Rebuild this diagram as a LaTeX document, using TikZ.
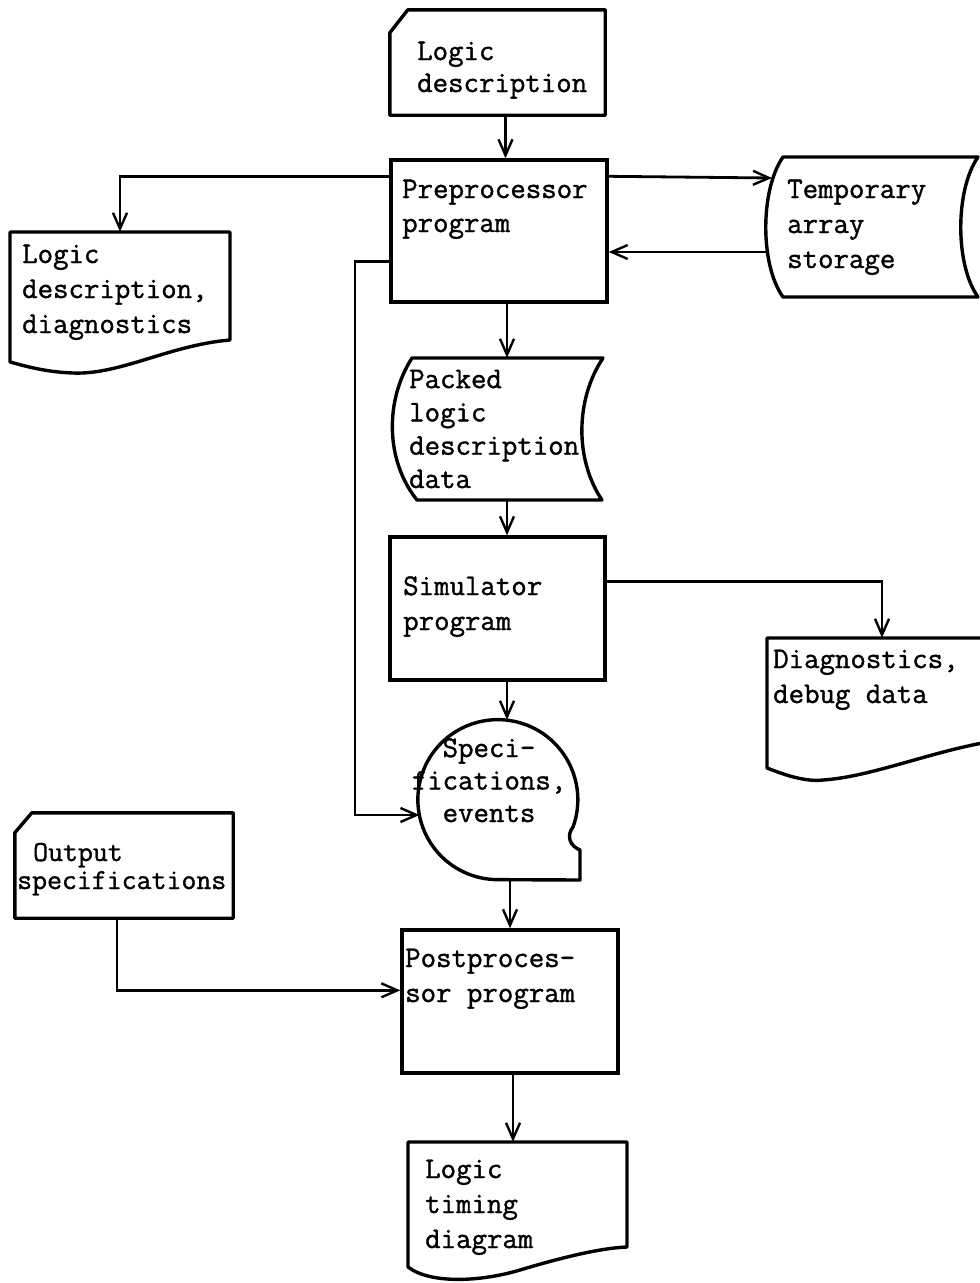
\documentclass[tikz,border=0pt]{standalone}
\usepackage{fontspec}
\setmonofont{Latin Modern Mono}[FakeBold=1.2]
\usetikzlibrary{arrows.meta,calc}
\begin{document}
\begin{tikzpicture}[x=1pt,y=-1pt,
  outl/.style={line width=3.4pt, line join=round},
  boxnode/.style={draw, rectangle, line width=3.4pt, inner sep=0pt},
  frame/.style={rectangle, draw=none, inner sep=0pt},
  conn/.style={line width=2.8pt},
  arr/.style={conn, -{Straight Barb[length=16pt,width=14pt,line width=2.4pt]}},
  lbl/.style={font=\ttfamily\bfseries\fontsize{30}{35}\selectfont, align=left, anchor=base west, inner sep=0pt},
]
\useasboundingbox (0,0) rectangle (980,1283);

% ---------- shapes ----------
% Logic description (card)
\node[frame, minimum width=215pt, minimum height=105pt] (ld) at (497.5,62.5) {};
\draw[outl] ([yshift=-23pt]ld.north west) -- ([xshift=18pt]ld.north west) -- (ld.north east) -- (ld.south east) -- (ld.south west) -- cycle;
\node[lbl, font=\ttfamily\bfseries\fontsize{30}{32}\selectfont] (ldT) at (417,92) {Logic\\description};

% Preprocessor program
\node[boxnode, minimum width=216pt, minimum height=142pt] (pre) at (499,231) {};
\node[lbl, font=\ttfamily\bfseries\fontsize{30}{34}\selectfont] (preT) at (402,232) {Preprocessor\\program};

% Logic description, diagnostics (document)
\node[frame, minimum width=220pt, minimum height=140pt] (ldd) at (120,302) {};
\draw[outl] (10,232) -- (230,232) -- (230,340) .. controls (170,345) and (120,375) .. (73,373) .. controls (45,372) and (25,366) .. (10,362) -- cycle;
\node[lbl] (lddT) at (22,333) {Logic\\description,\\diagnostics};

% Temporary array storage (online storage)
\node[frame, minimum width=213pt, minimum height=140pt] (tmp) at (871.5,227) {};
\draw[outl] (783,157) -- (978,157) .. controls (955,190) and (955,265) .. (978,297) -- (783,297) .. controls (760,265) and (760,190) .. (783,157) -- cycle;
\node[lbl] (tmpT) at (787,268) {Temporary\\array\\storage};
\coordinate (tmpIn) at (772,178);
\coordinate (tmpOut) at (768,252);

% Packed logic description data (storage)
\node[frame, minimum width=215pt, minimum height=142pt] (pk) at (495.5,429) {};
\draw[outl] (412,358) -- (603,358) .. controls (575,400) and (575,460) .. (602,500) -- (417,500) .. controls (385,460) and (385,400) .. (412,358) -- cycle;
\node[lbl, font=\ttfamily\bfseries\fontsize{30}{33.3}\selectfont] (pkT) at (409,488) {Packed\\logic\\description\\data};

% Simulator program
\node[boxnode, minimum width=215pt, minimum height=143pt] (sim) at (497.5,608.5) {};
\node[lbl] (simT) at (403,630) {Simulator\\program};

% Diagnostics, debug data (document, cut at right border)
\node[frame, minimum width=230pt, minimum height=144pt] (diag) at (882,710) {};
\draw[outl] (988,742) -- (988,638) -- (767,638) -- (767,768) .. controls (785,775) and (805,782) .. (823,780) .. controls (870,777) and (930,752) .. (988,742);
\node[lbl] (diagT) at (773,703) {Diagnostics,\\debug data};

% Specifications, events (magnetic tape)
\node[circle, draw=none, minimum size=160pt, inner sep=0pt] (tape) at (498,800) {};
\draw[outl] (573,827) arc[start angle=20, end angle=-270, radius=80] -- (580,880) -- (580,850) .. controls (570,846) and (566,836) .. (573,827) -- cycle;
\node[font=\ttfamily\bfseries\fontsize{30}{32.5}\selectfont, align=center, anchor=base, inner sep=0pt] (tapeT) at (489,822) {Speci-\\fications,\\events};
\coordinate (tapeIn) at (419.5,815);
\coordinate (rail) at (355,815);

% Output specifications (card)
\node[frame, minimum width=218pt, minimum height=105pt] (ot) at (124,865.5) {};
\draw[outl] ([yshift=-20pt]ot.north west) -- ([xshift=17pt]ot.north west) -- (ot.north east) -- (ot.south east) -- (ot.south west) -- cycle;
\node[lbl, font=\ttfamily\bfseries\fontsize{29}{28}\selectfont] (otT) at (17,889) {\hspace*{16pt}Output\\specifications};

% Postprocessor program
\node[boxnode, minimum width=216pt, minimum height=143pt] (post) at (510,1001.5) {};
\node[lbl] (postT) at (405,1002) {Postproces-\\sor program};

% Logic timing diagram (document)
\node[frame, minimum width=219pt, minimum height=141pt] (lt) at (517.5,1212.5) {};
\draw[outl] (408,1142) -- (627,1142) -- (627,1247) .. controls (600,1248) and (560,1258) .. (520,1270) .. controls (480,1282) and (430,1284) .. (408,1267) -- cycle;
\node[lbl] (ltT) at (425,1248) {Logic\\timing\\diagram};

% ---------- connectors ----------
\draw[arr] ([xshift=8pt]ld.south) -- ([xshift=8pt]ld.south |- pre.north);
\draw[arr] ([yshift=-18pt]pre.north west) -| (ldd.north);
\draw[arr] ([yshift=-18pt]pre.north east) -- (tmpIn);
\draw[arr] (tmpOut) -- (pre.east |- tmpOut);
\draw[arr] ([xshift=8pt]pre.south) -- ([xshift=8pt]pre.south |- pk.north);
\draw[arr] ([xshift=9.5pt]sim.north |- pk.south) -- ([xshift=9.5pt]sim.north);
\draw[arr] ([yshift=-46pt]sim.north east) -| (diag.north);
\draw[arr] ([xshift=9.5pt]sim.south) -- ([xshift=9.5pt]sim.south |- tape.north);
\draw[arr] ([yshift=42pt]pre.south west) -| (rail) -- (tapeIn);
\draw[arr] (post.north |- tape.south) -- (post.north);
\draw[arr] ([xshift=-7pt]ot.south) |- ([yshift=-62pt]post.north west);
\draw[arr] ([xshift=3pt]post.south) -- ([xshift=3pt]post.south |- lt.north);
\end{tikzpicture}
\end{document}
